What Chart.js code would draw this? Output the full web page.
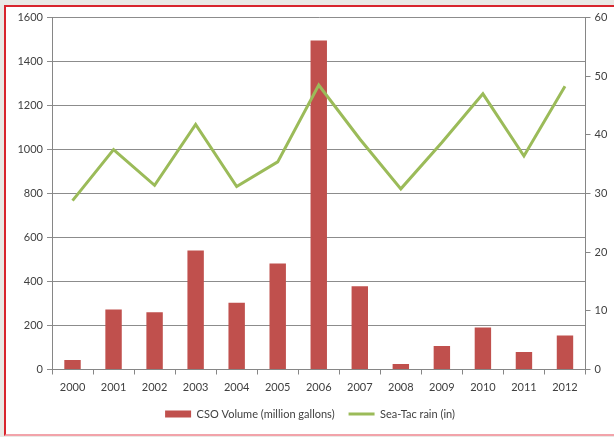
<!DOCTYPE html>
<html>
<head>
<meta charset="utf-8">
<script src="https://cdn.jsdelivr.net/npm/chart.js@4/dist/chart.umd.min.js"></script>
<style>
  html, body { margin: 0; padding: 0; background: #e9e9e5; overflow: hidden; }
  #frame {
    position: absolute; left: 4px; top: 5px; width: 630px; height: 427px;
    background: #ffffff;
    border: 2px solid #d8252d; border-bottom-color: #f2a3aa;
  }
  #chart { position: absolute; left: 0; top: 0; }
</style>
</head>
<body>
<div id="frame"><canvas id="chart" width="608" height="427"></canvas></div>
<script>
// Years on the category axis
const years = ['2000', '2001', '2002', '2003', '2004', '2005', '2006',
  '2007', '2008', '2009', '2010', '2011', '2012'];

// CSO volume, million gallons (left axis)
const csoVolume = [43, 273, 260, 541, 303, 482, 1496, 379, 25, 107, 191, 79, 155];

// Sea-Tac rain, inches (right axis)
const seaTacRain = [28.8, 37.5, 31.4, 41.8, 31.2, 35.4, 48.5, 39.3, 30.8, 38.7, 47.0, 36.4, 48.3];

const colors = {
  bar: '#c0504d',
  line: '#9bbb59',
  axis: '#868686',
  grid: '#8c8c8c',
  text: '#404040'
};

const font = { family: 'Lato, "Open Sans", sans-serif', size: 11 };

// plain numbers, no thousands separator
const plain = (v) => String(v);

const canvas = document.getElementById('chart');

new Chart(canvas, {
  type: 'bar',
  data: {
    labels: years,
    datasets: [
      {
        type: 'line',
        label: 'Sea-Tac rain (in)',
        data: seaTacRain,
        yAxisID: 'rain',
        borderColor: colors.line,
        backgroundColor: colors.line,
        borderWidth: 3,
        pointRadius: 0,
        tension: 0,
        order: 1
      },
      {
        label: 'CSO Volume (million gallons)',
        data: csoVolume,
        yAxisID: 'cso',
        backgroundColor: colors.bar,
        borderWidth: 0,
        barPercentage: 0.4,
        categoryPercentage: 1,
        order: 2
      }
    ]
  },
  options: {
    responsive: false,
    animation: false,
    layout: { padding: { top: 9, left: 0, right: 0, bottom: 4.5 } },
    plugins: {
      tooltip: { enabled: false },
      legend: {
        position: 'bottom',
        reverse: true,
        labels: {
          color: colors.text,
          font: font,
          padding: 14,
          boxWidth: 26,
          boxHeight: 7,
          usePointStyle: true,
          pointStyleWidth: 26,
          generateLabels(chart) {
            return chart.data.datasets.map((ds, i) => ({
              text: ds.label,
              datasetIndex: i,
              fillStyle: ds.type === 'line' ? ds.borderColor : ds.backgroundColor,
              strokeStyle: ds.type === 'line' ? ds.borderColor : ds.backgroundColor,
              lineWidth: ds.type === 'line' ? 3 : 0,
              pointStyle: ds.type === 'line' ? 'line' : 'rect',
              fontColor: colors.text,
              hidden: false
            }));
          }
        }
      }
    },
    scales: {
      x: {
        grid: {
          offset: true,
          drawOnChartArea: false,
          drawTicks: true,
          tickLength: 5,
          color: colors.axis
        },
        border: { color: colors.axis, width: 1 },
        ticks: { color: colors.text, font: font, padding: 6, maxRotation: 0 },
        // fixed height so the plot bottom lands where the original has it
        afterFit(scale) { scale.height = 25; }
      },
      cso: {
        position: 'left',
        min: 0,
        max: 1600,
        ticks: { stepSize: 200, color: colors.text, font: font, padding: 4, callback: plain },
        grid: { color: colors.grid, tickLength: 5 },
        border: { color: colors.axis, width: 1 },
        afterFit(scale) { scale.width = 46; }
      },
      rain: {
        position: 'right',
        min: 0,
        max: 60,
        ticks: { stepSize: 10, color: colors.text, font: font, padding: 4, callback: plain },
        grid: { drawOnChartArea: false, color: colors.axis, tickLength: 5 },
        border: { color: colors.axis, width: 1 },
        afterFit(scale) { scale.width = 28.5; }
      }
    }
  }
});
</script>
</body>
</html>
